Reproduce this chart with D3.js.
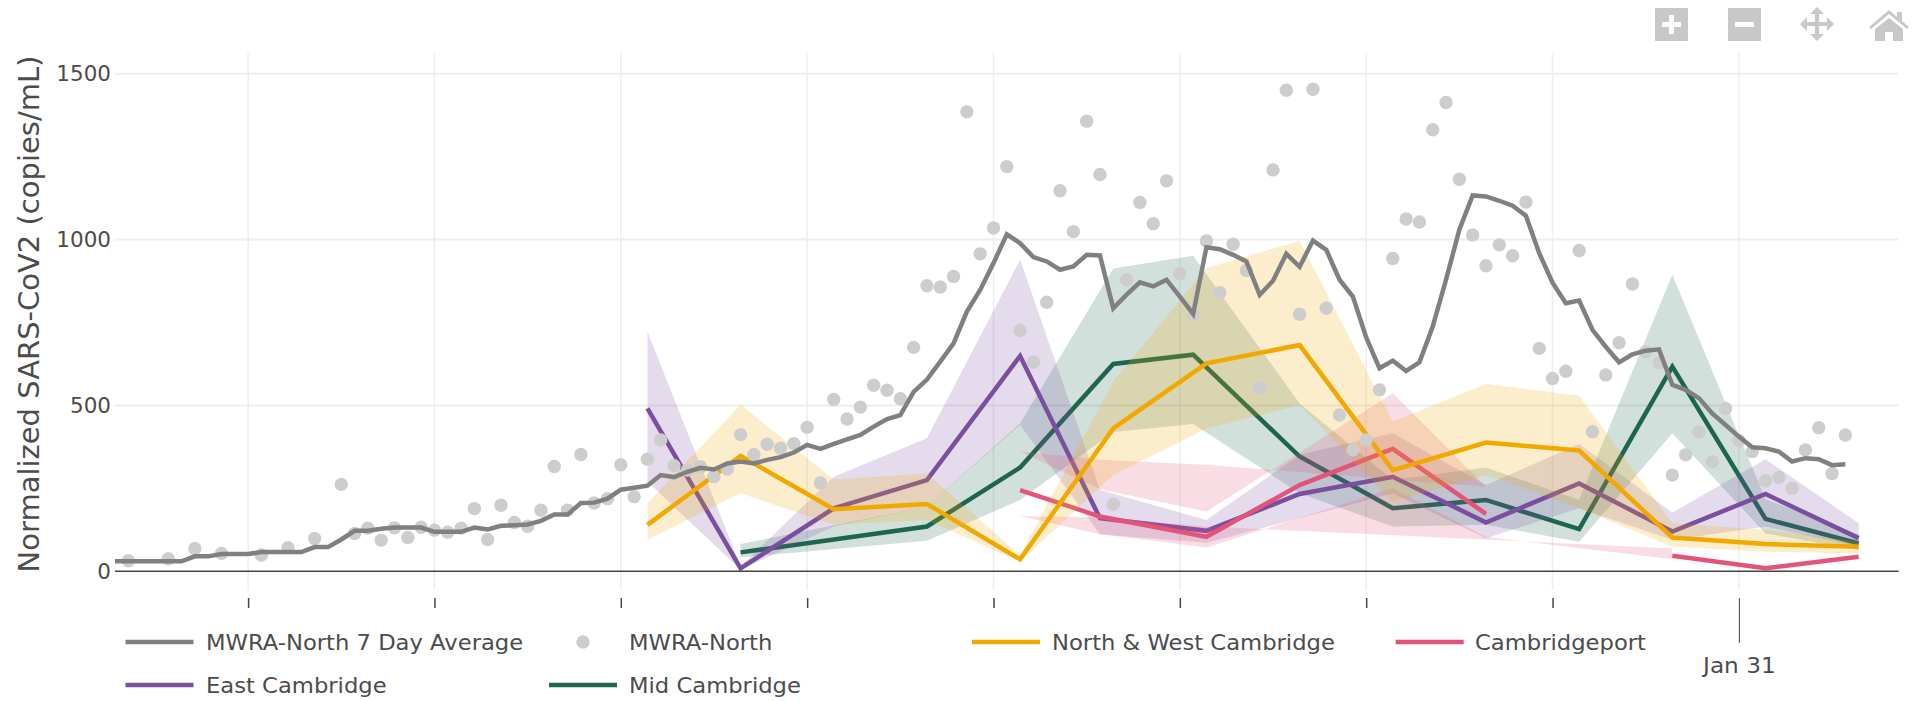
<!DOCTYPE html>
<html>
<head>
<meta charset="utf-8">
<script src="https://cdnjs.cloudflare.com/ajax/libs/d3/7.8.5/d3.min.js"></script>
<style>
  html, body { margin: 0; padding: 0; background: #fff; }
  text { font-family: "DejaVu Sans", Verdana, sans-serif; fill: #4c4c4c; }
</style>
</head>
<body>
<div id="chart"></div>
<script>
// MWRA daily series start here, one value per day
var dailyStart = "2021-10-01";

var avgValues = [30,30,30,30,30,30,45,45,52,52,52,58,58,58,58,73,73,96,122,122,128,132,132,132,119,119,119,132,126,137,
  139,141,152,171,171,206,207,219,246,252,258,290,284,300,312,307,325,331,325,336,344,358,381,369,384,398,411,436,459,471,
  541,578,632,687,783,848,929,1016,989,947,934,909,919,954,952,793,834,871,859,879,828,776,977,971,954,934,833,876,957,918,
  997,969,879,828,705,612,635,604,630,738,879,1030,1133,1130,1117,1102,1072,959,870,808,816,728,677,630,654,665,669,562,547,522,
  476,441,406,374,371,361,331,341,338,320,323];

var dotValues = [null,32,null,null,38,null,69,null,54,null,null,49,null,71,null,99,null,262,114,130,94,131,102,133,124,118,130,189,96,199,
  147,136,184,316,184,352,206,219,321,225,338,396,318,305,315,285,308,412,352,383,371,385,434,266,518,459,495,561,546,520,
  675,861,857,889,1385,957,1035,1220,726,630,811,1147,1024,1357,1196,202,879,1112,1048,1177,898,773,996,840,986,907,552,1210,1450,775,
  1453,793,471,366,396,547,943,1062,1053,1331,1413,1182,1014,921,984,951,1113,672,581,603,967,421,592,689,866,662,629,290,351,421,330,
  491,394,361,273,283,250,366,433,295,411];

// neighbourhood samples
var northDates = ["2021-11-10","2021-11-17","2021-11-24","2021-12-01","2021-12-08","2021-12-15","2021-12-22","2021-12-29","2022-01-05","2022-01-12","2022-01-19","2022-01-26","2022-02-02","2022-02-09"];
var northValues = [140,348,187,203,36,431,627,682,305,388,364,102,82,74];
var northUpper = [205,502,277,295,49,572,914,996,451,565,529,145,125,90];
var northLower = [94,235,140,155,29,290,430,501,210,290,190,74,59,54];

var eastDates = ["2021-11-10","2021-11-17","2021-11-24","2021-12-01","2021-12-08","2021-12-14","2021-12-22","2021-12-29","2022-01-05","2022-01-12","2022-01-19","2022-01-26","2022-02-02","2022-02-09"];
var eastValues = [491,9,190,275,649,160,122,233,285,147,265,120,233,100];
var eastUpper = [723,15,285,401,939,245,155,351,416,260,384,177,338,145];
var eastLower = [270,5,135,195,441,112,86,160,235,100,190,94,135,74];

var midDates = ["2021-11-17","2021-12-01","2021-12-08","2021-12-15","2021-12-21","2021-12-29","2022-01-05","2022-01-12","2022-01-19","2022-01-26","2022-02-02","2022-02-09"];
var midValues = [57,135,313,625,653,346,190,215,127,617,158,84];
var midUpper = [82,195,446,913,951,506,275,313,215,894,217,110];
var midLower = [42,92,215,420,444,235,135,140,89,416,114,64];

var portDates = ["2021-12-08","2021-12-14","2021-12-22","2021-12-29","2022-01-05","2022-01-12","2022-01-19","2022-01-26","2022-02-02","2022-02-09"];
var portValues = [245,165,104,260,369,173,null,47,9,44];
// the Cambridgeport band is crossed over in the source, so it is kept as two outlines
var portBandADates = ["2021-12-08","2021-12-14","2021-12-22","2022-01-12","2022-01-05","2021-12-22","2021-12-14"];
var portBandAValues = [361,336,321,255,537,180,247];
var portBandBDates = ["2021-12-08","2021-12-14","2021-12-22","2022-01-26","2022-01-26","2022-01-12","2022-01-05","2021-12-22","2021-12-14"];
var portBandBValues = [167,163,135,69,36,104,250,72,112];

var yTicks = [0,500,1000,1500];
var xTickDates = ["2021-10-11","2021-10-25","2021-11-08","2021-11-22","2021-12-06","2021-12-20","2022-01-03","2022-01-17","2022-01-31"];

var colors = { avg: "#808080", dot: "#cdcdcd", north: "#f2a900", port: "#e4547a", east: "#7a4f9e", mid: "#1f6650" };

var parse = d3.utcParse("%Y-%m-%d");
var startDay = parse(dailyStart);

var svg = d3.select("#chart").append("svg")
  .attr("width", 1918)
  .attr("height", 701)
  .style("display", "block");

var xScale = d3.scaleUtc().domain([startDay, parse("2022-02-12")]).range([115, 1898.6]);
var yScale = d3.scaleLinear().domain([0, 1500]).range([571.3, 73.7]);
var plotTop = 53;
var plotBottom = 590;

// grid
svg.append("g").selectAll("line")
  .data(xTickDates)
  .enter().append("line")
  .attr("x1", d => xScale(parse(d)))
  .attr("x2", d => xScale(parse(d)))
  .attr("y1", plotTop)
  .attr("y2", plotBottom)
  .attr("stroke", "#eee")
  .attr("stroke-width", 1.5);

svg.append("g").selectAll("line")
  .data(yTicks.slice(1))
  .enter().append("line")
  .attr("x1", 115)
  .attr("x2", 1898.6)
  .attr("y1", d => yScale(d))
  .attr("y2", d => yScale(d))
  .attr("stroke", "#eee")
  .attr("stroke-width", 2);

// y axis, labels only
var yAxis = svg.append("g")
  .attr("transform", "translate(115,0)")
  .call(d3.axisLeft(yScale).tickValues(yTicks).tickFormat(d3.format("d")).tickSize(0).tickPadding(4));
yAxis.select(".domain").remove();
yAxis.selectAll("text").style("font-family", "DejaVu Sans").style("font-size", "21.5px").style("fill", "#4c4c4c");

svg.append("text")
  .attr("transform", "translate(39,314) rotate(-90)")
  .attr("text-anchor", "middle")
  .style("font-size", "29px")
  .text("Normalized SARS-CoV2 (copies/mL)");

function drawBand(dates, upper, lower, color) {
  var area = d3.area()
    .x((d, i) => xScale(parse(dates[i])))
    .y0((d, i) => yScale(lower[i]))
    .y1((d, i) => yScale(upper[i]));
  svg.append("path").attr("d", area(dates)).attr("fill", color).attr("fill-opacity", 0.2);
}

function drawOutline(dates, values, color) {
  var line = d3.line()
    .x((d, i) => xScale(parse(dates[i])))
    .y((d, i) => yScale(values[i]));
  svg.append("path").attr("d", line(dates) + "Z").attr("fill", color).attr("fill-opacity", 0.2);
}

function drawLine(dates, values, color) {
  var line = d3.line()
    .defined((d, i) => values[i] !== null)
    .x((d, i) => xScale(parse(dates[i])))
    .y((d, i) => yScale(values[i]));
  svg.append("path")
    .attr("d", line(dates))
    .attr("fill", "none")
    .attr("stroke", color)
    .attr("stroke-width", 4.5)
    .attr("stroke-linejoin", "miter");
}

// order matters, each band washes over the lines already drawn
drawLine(midDates, midValues, colors.mid);
drawBand(midDates, midUpper, midLower, colors.mid);
drawLine(eastDates, eastValues, colors.east);
drawBand(eastDates, eastUpper, eastLower, colors.east);
drawLine(portDates, portValues, colors.port);
drawOutline(portBandADates, portBandAValues, colors.port);
drawOutline(portBandBDates, portBandBValues, colors.port);
drawLine(northDates, northValues, colors.north);
drawBand(northDates, northUpper, northLower, colors.north);

// zero line
svg.append("line")
  .attr("x1", 115).attr("x2", 1898.6)
  .attr("y1", yScale(0)).attr("y2", yScale(0))
  .attr("stroke", "#444")
  .attr("stroke-width", 1.5);

// MWRA dots and average
var dotData = dotValues.map((v, i) => ({ day: i, value: v })).filter(d => d.value !== null);
svg.append("g").selectAll("circle")
  .data(dotData)
  .enter()
  .append("circle")
  .attr("cx", d => xScale(d3.utcDay.offset(startDay, d.day)))
  .attr("cy", d => yScale(d.value))
  .attr("r", 6.7)
  .attr("fill", colors.dot);

var avgLine = d3.line()
  .x((d, i) => xScale(d3.utcDay.offset(startDay, i)))
  .y(d => yScale(d));
svg.append("path")
  .attr("d", avgLine(avgValues))
  .attr("fill", "none")
  .attr("stroke", colors.avg)
  .attr("stroke-width", 4.5);

// x axis, only the last tick keeps a label
var xAxis = svg.append("g")
  .attr("transform", "translate(0,598)")
  .call(d3.axisBottom(xScale)
    .tickValues(xTickDates.map(d => parse(d)))
    .tickSize(10)
    .tickFormat(d => d3.utcFormat("%Y-%m-%d")(d) == "2022-01-31" ? "Jan 31" : ""));
xAxis.select(".domain").remove();
xAxis.selectAll("line").attr("stroke", "#444").attr("stroke-width", 1.5);
xAxis.selectAll("text")
  .attr("y", 0)
  .attr("dy", 0)
  .attr("transform", "translate(0,75) scale(1.08,1)")
  .style("font-family", "DejaVu Sans")
  .style("font-size", "21.5px")
  .style("fill", "#4c4c4c");
xAxis.selectAll(".tick").filter(d => d3.utcFormat("%Y-%m-%d")(d) == "2022-01-31")
  .select("line").attr("y2", 45).attr("stroke-width", 1);

// legend
var legendItems = [
  { name: "MWRA-North 7 Day Average", color: colors.avg, x: 125.5, textX: 206, y: 642 },
  { name: "MWRA-North", color: colors.dot, x: 549, textX: 629, y: 642, dot: true },
  { name: "North & West Cambridge", color: colors.north, x: 972, textX: 1052, y: 642 },
  { name: "Cambridgeport", color: colors.port, x: 1395.7, textX: 1475, y: 642 },
  { name: "East Cambridge", color: colors.east, x: 125.5, textX: 206, y: 685 },
  { name: "Mid Cambridge", color: colors.mid, x: 549, textX: 629, y: 685 }
];
var legend = svg.append("g").selectAll("g")
  .data(legendItems)
  .enter().append("g");
legend.filter(d => !d.dot).append("line")
  .attr("x1", d => d.x)
  .attr("x2", d => d.x + 68)
  .attr("y1", d => d.y)
  .attr("y2", d => d.y)
  .attr("stroke", d => d.color)
  .attr("stroke-width", 4.5);
legend.filter(d => d.dot).append("circle")
  .attr("cx", d => d.x + 34)
  .attr("cy", d => d.y)
  .attr("r", 6.7)
  .attr("fill", d => d.color);
legend.append("text")
  .attr("transform", d => "translate(" + d.textX + "," + (d.y + 7.5) + ") scale(1.055,1)")
  .style("font-size", "21.5px")
  .text(d => d.name);

// plotly style mode bar
var bar = svg.append("g").attr("fill", "#c8c8c8");
bar.append("rect").attr("x", 1655).attr("y", 8).attr("width", 33).attr("height", 33);
bar.append("path").attr("fill", "#fff").attr("d", "M1669 15h5v7h7v5h-7v7h-5v-7h-7v-5h7z");
bar.append("rect").attr("x", 1728).attr("y", 8).attr("width", 33).attr("height", 33);
bar.append("rect").attr("x", 1735).attr("y", 22).attr("width", 19).attr("height", 5).attr("fill", "#fff");
bar.append("path").attr("d", "M1817 7l7 7h-5v8h8v-5l7 7-7 7v-5h-8v8h5l-7 7-7-7h5v-8h-8v5l-7-7 7-7v5h8v-8h-5z");
bar.append("path").attr("d", "M1889 10l8 7v-5h5v9l7 6-2 2-18-15-18 15-2-2zM1875 29l14-11 14 11v12h-10v-9h-8v9h-10z");
</script>
</body>
</html>
